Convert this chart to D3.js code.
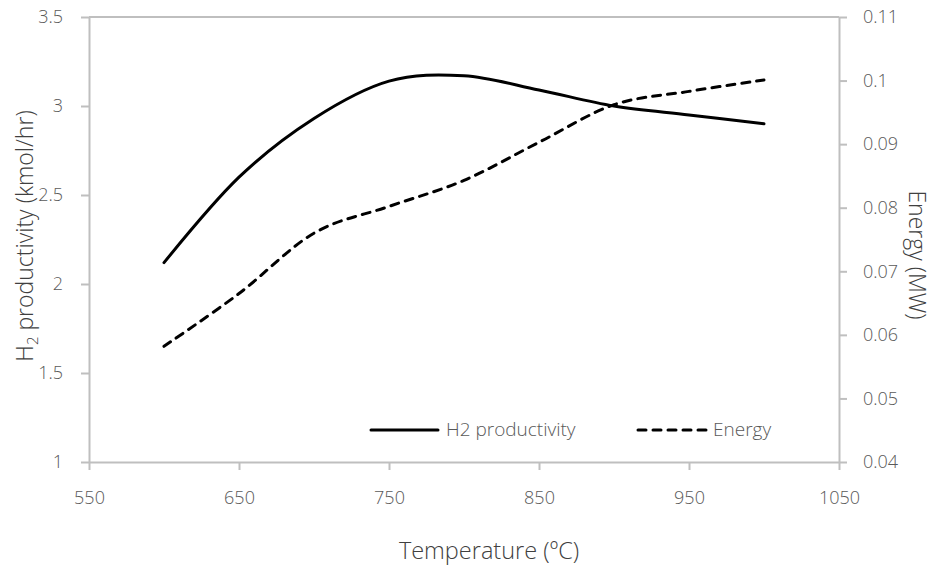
<!DOCTYPE html>
<html>
<head>
<meta charset="utf-8">
<script src="https://cdn.jsdelivr.net/npm/d3@7"></script>
<style>
  body { margin: 0; background: #fff; }
  svg { display: block; font-family: "Open Sans", Lato, sans-serif; font-weight: 300; }
</style>
</head>
<body>
<svg id="chart" width="937" height="566"></svg>
<script>
// ---- data ----
const temperatures = [600, 650, 700, 750, 800, 850, 900, 950, 1000];
const h2Productivity = [2.12, 2.60, 2.93, 3.14, 3.17, 3.09, 3.00, 2.95, 2.90];
const energy = [0.0582, 0.0665, 0.0760, 0.0802, 0.0843, 0.0903, 0.0962, 0.0983, 0.1001];
const xTicks = [550, 650, 750, 850, 950, 1050];
const leftTicks = [1, 1.5, 2, 2.5, 3, 3.5];
const rightTicks = [0.04, 0.05, 0.06, 0.07, 0.08, 0.09, 0.1, 0.11];
const seriesNames = ["H2 productivity", "Energy"];

// ---- layout ----
const svg = d3.select("#chart");
const L = 89, R = 839, T = 17, B = 462;
const axisColor = "#bfbfbf", labelColor = "#595959", titleColor = "#404040";
const FONT = "'Open Sans', Lato, sans-serif";

const x = d3.scaleLinear().domain([550, 1050]).range([L, R]);
const yL = d3.scaleLinear().domain([1, 3.5]).range([B, T]);
const yR = d3.scaleLinear().domain([0.04, 0.11]).range([B, T]);

// top border
svg.append("line").attr("x1", L).attr("x2", R).attr("y1", T).attr("y2", T)
  .attr("stroke", axisColor).attr("stroke-width", 2);

function styleAxis(g) {
  g.select(".domain").attr("stroke", axisColor).attr("stroke-width", 2);
  g.selectAll(".tick line").attr("stroke", axisColor).attr("stroke-width", 2);
  g.selectAll(".tick text").attr("fill", labelColor).attr("font-size", 18)
    .attr("font-family", FONT).attr("font-weight", 300);
}

svg.append("g").attr("transform", `translate(0,${B})`)
  .call(d3.axisBottom(x).tickValues(xTicks).tickSize(8).tickSizeOuter(0).tickPadding(21).tickFormat(d3.format("d")))
  .call(styleAxis);

svg.append("g").attr("transform", `translate(${L},0)`)
  .call(d3.axisLeft(yL).tickValues(leftTicks).tickSize(8).tickSizeOuter(0).tickPadding(18).tickFormat(d => String(d)))
  .call(styleAxis);

svg.append("g").attr("transform", `translate(${R},0)`)
  .call(d3.axisRight(yR).tickValues(rightTicks).tickSize(8).tickSizeOuter(0).tickPadding(16).tickFormat(d => String(+d.toFixed(2))))
  .call(styleAxis);

// ---- lines ----
const curve = d3.curveCardinal.tension(0);
const lineH2 = d3.line().x((d, i) => x(temperatures[i])).y(d => yL(d)).curve(curve);
const lineE = d3.line().x((d, i) => x(temperatures[i])).y(d => yR(d)).curve(curve);

svg.append("path").datum(h2Productivity).attr("d", lineH2)
  .attr("fill", "none").attr("stroke", "#000").attr("stroke-width", 3).attr("stroke-linecap", "round");
svg.append("path").datum(energy).attr("d", lineE)
  .attr("fill", "none").attr("stroke", "#000").attr("stroke-width", 3)
  .attr("stroke-linecap", "round").attr("stroke-dasharray", "8,7");

// ---- legend ----
const leg = svg.append("g");
leg.append("line").attr("x1", 371).attr("x2", 438).attr("y1", 430).attr("y2", 430)
  .attr("stroke", "#000").attr("stroke-width", 3).attr("stroke-linecap", "round");
leg.append("text").attr("x", 446).attr("y", 436).attr("font-size", 19).attr("fill", labelColor).text(seriesNames[0]);
leg.append("line").attr("x1", 638).attr("x2", 706).attr("y1", 430).attr("y2", 430)
  .attr("stroke", "#000").attr("stroke-width", 3).attr("stroke-linecap", "round").attr("stroke-dasharray", "8,7");
leg.append("text").attr("x", 713).attr("y", 436).attr("font-size", 19).attr("fill", labelColor).text(seriesNames[1]);

// ---- axis titles ----
svg.append("text").attr("x", 489).attr("y", 559).attr("text-anchor", "middle")
  .attr("font-size", 23.5).attr("fill", titleColor).text("Temperature (ºC)");

const lt = svg.append("text").attr("transform", "translate(33,236) rotate(-90)")
  .attr("text-anchor", "middle").attr("font-size", 23).attr("fill", titleColor);
lt.append("tspan").text("H");
lt.append("tspan").attr("font-size", 15).attr("dy", 5).text("2");
lt.append("tspan").attr("dy", -5).text(" productivity (kmol/hr)");

svg.append("text").attr("transform", "translate(909,255) rotate(90)")
  .attr("text-anchor", "middle").attr("font-size", 23).attr("fill", titleColor).text("Energy (MW)");
</script>
</body>
</html>
